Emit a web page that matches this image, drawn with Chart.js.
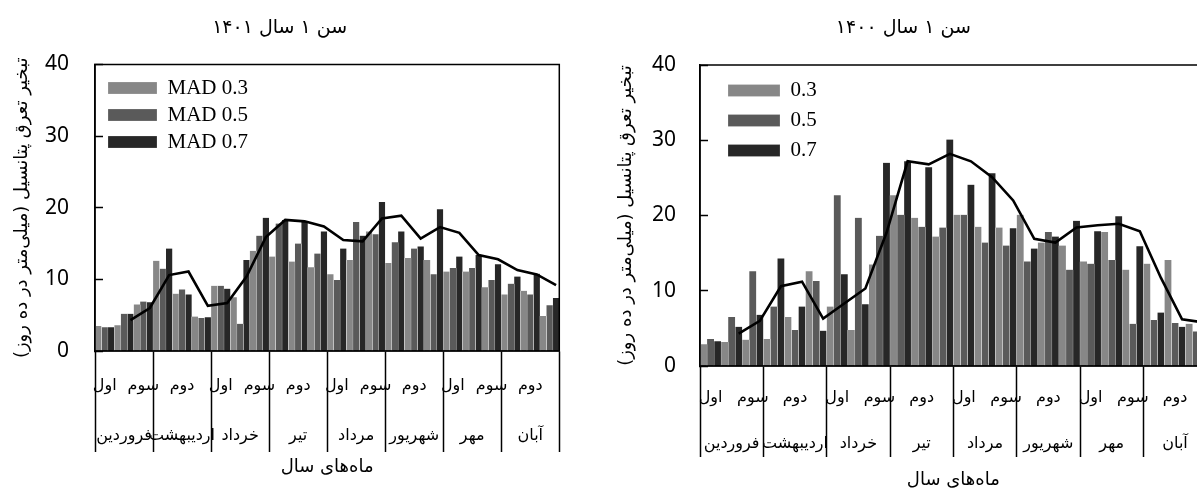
<!DOCTYPE html>
<html lang="fa">
<head>
<meta charset="utf-8">
<title>تبخیر تعرق پتانسیل</title>
<script src="https://cdn.jsdelivr.net/npm/chart.js@4.4.1/dist/chart.umd.min.js"></script>
<style>
  html, body { margin: 0; padding: 0; background: #fff; overflow: hidden; }
  body { width: 1197px; height: 488px; position: relative; }
  canvas { position: absolute; top: 0; }
  #chart1401 { left: 0; }
  #chart1400 { left: 600px; }
</style>
</head>
<body>
<canvas id="chart1401" width="578" height="488"></canvas>
<canvas id="chart1400" width="632" height="488"></canvas>
<script>
// categories: 8 months x 3 dekads
const months = ['فروردین', 'اردیبهشت', 'خرداد', 'تیر', 'مرداد', 'شهریور', 'مهر', 'آبان'];
const dekads = ['اول', 'دوم', 'سوم'];
const yTicks = [0, 10, 20, 30, 40];

// year 1401
const mad03_1401 = [3.5, 3.6, 6.5, 12.6, 8.0, 4.8, 9.1, 7.5, 14.0, 13.2, 12.5, 11.7, 10.7, 12.7, 16.7, 12.3, 13.0, 12.7, 11.1, 11.1, 8.9, 7.9, 8.4, 4.9];
const mad05_1401 = [3.3, 5.2, 6.9, 11.5, 8.6, 4.6, 9.1, 3.8, 16.1, 17.8, 15.0, 13.6, 9.9, 18.0, 16.3, 15.2, 14.3, 10.7, 11.6, 11.6, 9.9, 9.4, 7.9, 6.4];
const mad07_1401 = [3.3, 5.2, 6.8, 14.3, 7.9, 4.7, 8.7, 12.7, 18.6, 18.3, 18.0, 16.7, 14.3, 16.1, 20.8, 16.7, 14.6, 19.8, 13.2, 13.4, 12.1, 10.4, 10.8, 7.4];
const trend_1401 = [null, 4.3, 6.0, 10.6, 11.1, 6.3, 6.7, 10.4, 15.9, 18.3, 18.1, 17.4, 15.5, 15.3, 18.5, 18.9, 15.7, 17.3, 16.5, 13.4, 12.8, 11.3, 10.7, 9.2];

// year 1400
const mad03_1400 = [2.9, 3.2, 3.5, 3.6, 6.5, 12.6, 7.9, 4.8, 13.5, 22.7, 19.7, 17.2, 20.1, 18.5, 18.4, 20.1, 16.4, 16.0, 13.9, 17.8, 12.8, 13.6, 14.1, 5.6];
const mad05_1400 = [3.6, 6.5, 12.6, 7.9, 4.8, 11.3, 22.7, 19.7, 17.3, 20.1, 18.5, 18.4, 20.1, 16.4, 16.0, 13.9, 17.8, 12.8, 13.6, 14.1, 5.6, 6.1, 5.7, 4.6];
const mad07_1400 = [3.3, 5.2, 6.8, 14.3, 7.9, 4.7, 12.2, 8.2, 27.0, 27.2, 26.4, 30.1, 24.1, 25.6, 18.3, 15.6, 17.2, 19.3, 17.9, 19.9, 15.9, 7.1, 5.2, 6.4];
const trend_1400 = [null, 4.3, 6.0, 10.6, 11.2, 6.3, 8.3, 10.3, 17.7, 27.2, 26.8, 28.2, 27.2, 25.1, 22.0, 16.9, 16.4, 18.4, 18.7, 18.9, 17.9, 11.7, 6.2, 5.8];

const barColors = ['#878787', '#5a5a5a', '#272727'];
const categories = months.flatMap(m => dekads.map(d => m + ' ' + d));
// the trend line runs over the third bar of each group
const trendShift = 1 / 3;
const persian = 'DejaVu Sans';

// box around the plot area
const framePlugin = {
    id: 'frame',
    afterDraw(chart) {
        const a = chart.chartArea, ctx = chart.ctx;
        ctx.save();
        ctx.strokeStyle = '#000';
        ctx.lineWidth = 1.5;
        ctx.strokeRect(a.left, a.top, a.right - a.left, a.bottom - a.top);
        ctx.restore();
    }
};

// nudge the legend to its spot inside the plot
const legendPlacer = {
    id: 'legendPlacer',
    afterLayout(chart, args, opts) {
        if (!chart.legend) return;
        chart.legend.left = chart.chartArea.left + opts.dx;
        chart.legend.top = chart.chartArea.top + opts.dy;
    }
};

function xLabel(i) {
    const d = i % 3, m = Math.floor(i / 3);
    return [i % 2 === 0 ? dekads[d] : '', d === 1 ? months[m] : ''];
}

function makeChart(id, s) {
    const bars = [s.mad03, s.mad05, s.mad07].map((vals, k) => ({
        label: s.names[k],
        data: vals,
        backgroundColor: barColors[k],
        borderColor: '#ffffff',
        borderWidth: { left: 0.4, right: 0.4, top: 0, bottom: 0 },
        categoryPercentage: 1.0,
        barPercentage: 1.0,
        order: 1
    }));
    const trend = {
        type: 'line',
        label: 'trend',
        parsing: false,
        data: s.trend.flatMap((v, i) => v === null ? [] : [{ x: i + trendShift, y: v }]),
        borderColor: '#000',
        borderWidth: 2.6,
        pointRadius: 0,
        tension: 0,
        fill: false,
        order: 0
    };

    return new Chart(document.getElementById(id), {
        type: 'bar',
        data: { labels: categories.slice(), datasets: [...bars, trend] },
        plugins: [framePlugin, legendPlacer],
        options: {
            responsive: false,
            animation: false,
            layout: { padding: { left: 0, right: s.padRight, top: 0, bottom: 0 } },
            scales: {
                x: {
                    type: 'category',
                    offset: true,
                    grid: {
                        offset: true,
                        drawOnChartArea: false,
                        drawTicks: true,
                        tickLength: s.sepLength,
                        tickWidth: 1.5,
                        tickColor: ctx => (ctx.index === undefined || ctx.index % 3 === 0) ? '#000' : 'rgba(0,0,0,0)'
                    },
                    border: { display: true, color: '#000', width: 1.5 },
                    ticks: {
                        autoSkip: false,
                        maxRotation: 0,
                        minRotation: 0,
                        padding: s.labelPad,
                        color: '#000',
                        font: { family: persian, size: 16, lineHeight: s.rowGap + 'px' },
                        callback: (v, i) => xLabel(i)
                    },
                    title: {
                        display: true,
                        text: 'ماه‌های سال',
                        color: '#000',
                        font: { family: persian, size: 18 },
                        padding: { top: 0, bottom: s.xTitlePad }
                    },
                    afterFit: scale => { scale.height = s.xHeight; }
                },
                y: {
                    min: 0,
                    max: 40,
                    afterBuildTicks: scale => { scale.ticks = yTicks.map(v => ({ value: v })); },
                    grid: { drawOnChartArea: false, tickLength: -8, tickWidth: 1.5, tickColor: '#000' },
                    border: { display: true, color: '#000', width: 1.5 },
                    ticks: { color: '#000', padding: s.yTickPad, font: { family: 'Noto Sans', size: 21 } },
                    title: {
                        display: true,
                        text: 'تبخیر تعرق پتانسیل (میلی‌متر در ده روز)',
                        color: '#000',
                        font: { family: persian, size: 18 },
                        padding: { top: s.yTitlePad, bottom: 0 }
                    },
                    afterFit: scale => { scale.width = s.yWidth; }
                }
            },
            plugins: {
                title: {
                    display: true,
                    text: s.title,
                    color: '#000',
                    font: { family: persian, size: 19, weight: 'normal' },
                    padding: { top: 17, bottom: s.titleBottom }
                },
                legend: {
                    position: 'chartArea',
                    align: 'start',
                    labels: {
                        filter: item => item.datasetIndex < 3,
                        boxWidth: s.boxWidth,
                        boxHeight: 12,
                        padding: s.legendGap,
                        color: '#000',
                        font: { family: 'Liberation Serif', size: 21 }
                    }
                },
                legendPlacer: { dx: s.legendDx, dy: s.legendDy },
                tooltip: { enabled: false }
            }
        }
    });
}

makeChart('chart1401', {
    title: 'سن ۱ سال ۱۴۰۱',
    names: ['MAD 0.3', 'MAD 0.5', 'MAD 0.7'],
    mad03: mad03_1401, mad05: mad05_1401, mad07: mad07_1401, trend: trend_1401,
    padRight: 18.7, yWidth: 95, xHeight: 137, titleBottom: 24.7,
    sepLength: 101, labelPad: -91, rowGap: 50, xTitlePad: 10.2,
    yTickPad: 34, yTitlePad: 12,
    boxWidth: 49, legendGap: 6, legendDx: 7, legendDy: 7
});

makeChart('chart1400', {
    title: 'سن ۱ سال ۱۴۰۰',
    names: ['0.3', '0.5', '0.7'],
    mad03: mad03_1400, mad05: mad05_1400, mad07: mad07_1400, trend: trend_1400,
    padRight: 25.3, yWidth: 100, xHeight: 122, titleBottom: 25.2,
    sepLength: 91, labelPad: -82, rowGap: 46, xTitlePad: -3,
    yTickPad: 32, yTitlePad: 16,
    boxWidth: 52, legendGap: 9, legendDx: 19, legendDy: 6
});
</script>
</body>
</html>
